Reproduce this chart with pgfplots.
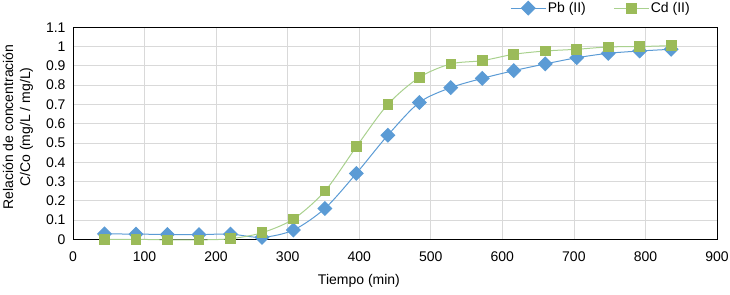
\documentclass[border=0pt]{standalone}
\usepackage{fontspec}
\setmainfont{Liberation Sans}
\usepackage{pgfplots}
\pgfplotsset{compat=1.18}
\definecolor{pbblue}{HTML}{5B9BD5}
\definecolor{cdgreen}{HTML}{9BBB59}
\definecolor{cdline}{HTML}{A9D18E}
\definecolor{gridgray}{HTML}{D9D9D9}
\begin{document}
\begin{tikzpicture}[font=\fontsize{14bp}{17bp}\selectfont]
\begin{axis}[
  width=644bp, height=212bp, scale only axis,
  xmin=0, xmax=900, ymin=0, ymax=1.1,
  xtick={0,100,200,300,400,500,600,700,800,900},
  ytick={0,0.1,0.2,0.3,0.4,0.5,0.6,0.7,0.8,0.9,1,1.1},
  yticklabel style={/pgf/number format/fixed, /pgf/number format/precision=1, xshift=-4bp},
  xticklabel style={yshift=-9bp},
  /pgf/number format/assume math mode=true,
  grid=major, major grid style={gridgray, line width=0.75bp},
  major tick length=0pt,
  axis line style={black, line width=0.75bp},
  clip=false,
  xlabel={Tiempo (min)},
  xlabel style={at={(axis description cs:0.444,0)}, anchor=center, yshift=-42bp},
  ylabel={Relación de concentración\\C/Co (mg/L / mg/L)},
  ylabel style={at={(axis description cs:-0.0854,0.53)}, anchor=center, align=center},
  legend style={at={(axis description cs:0.965,1.09)}, anchor=east, draw=none, fill=none,
    nodes={inner sep=1.5bp},
    legend columns=2, /tikz/every even column/.append style={column sep=26bp}},
  legend image code/.code={\draw[mark repeat=2,mark phase=2,#1] plot coordinates {(0bp,0bp) (17.5bp,0bp) (35bp,0bp)};},
]
\coordinate (ll) at (rel axis cs:0,0);
\addplot[color=pbblue, line width=1bp, smooth, mark=square*, mark size=4.8bp,
  mark options={rotate=45, fill=pbblue, draw=pbblue, solid}]
  coordinates {
  (44,0.028) (88,0.027) (132,0.025) (176,0.024) (220,0.027) (264,0.010)
  (308,0.048) (352,0.160) (396,0.342) (440,0.540) (484,0.710) (528,0.787)
  (572,0.835) (616,0.875) (660,0.910) (704,0.942) (748,0.965) (792,0.977) (836,0.986)
  };
\addlegendentry{Pb (II)}
\addplot[color=cdline, line width=1bp, smooth, mark=square*, mark size=4.8bp,
  mark options={fill=cdgreen, draw=cdgreen, solid}]
  coordinates {
  (44,0.000) (88,0.000) (132,-0.003) (176,-0.003) (220,0.003) (264,0.034)
  (308,0.105) (352,0.250) (396,0.480) (440,0.700) (484,0.840) (528,0.910)
  (572,0.927) (616,0.960) (660,0.977) (704,0.986) (748,0.998) (792,1.000) (836,1.005)
  };
\addlegendentry{Cd (II)}
\end{axis}
\pgfresetboundingbox
\path (ll) ++(-73bp,-55.7bp) rectangle ++(730bp,295bp);
\end{tikzpicture}
\end{document}
